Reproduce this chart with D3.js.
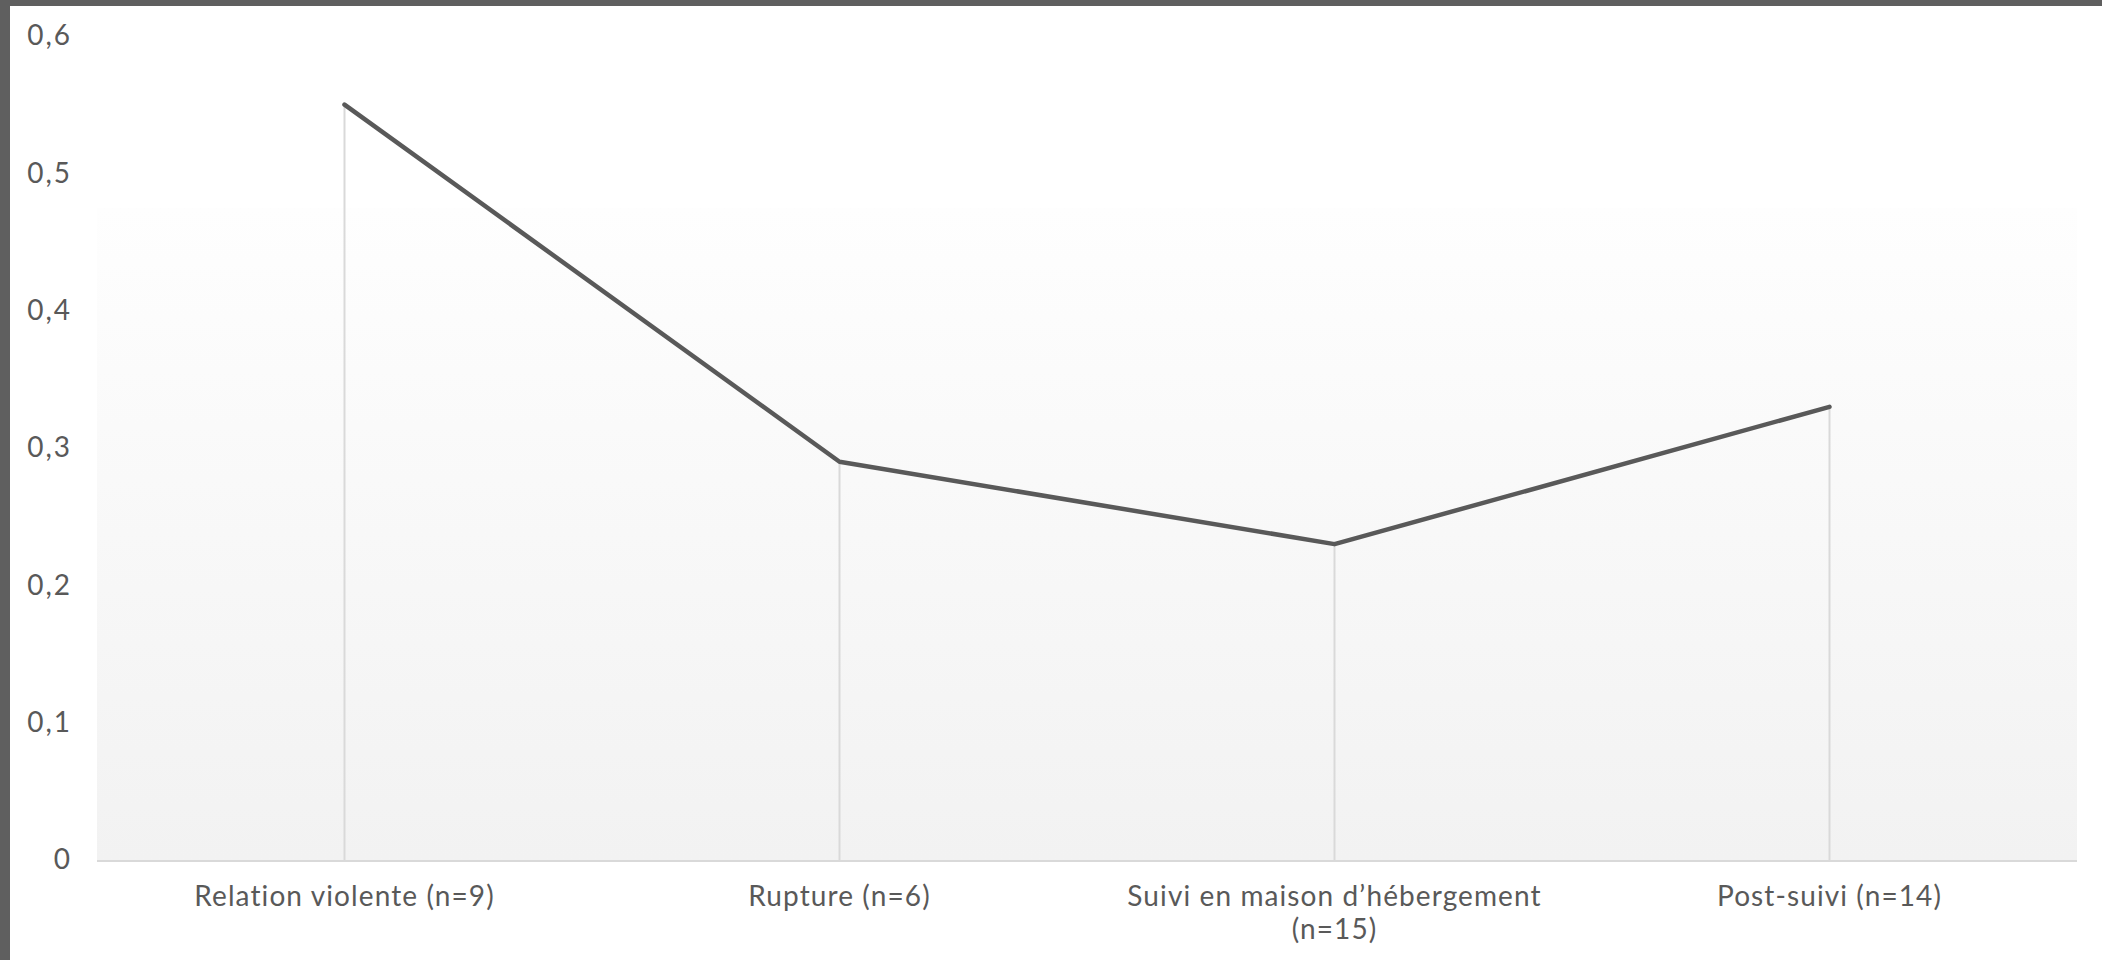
<!DOCTYPE html>
<html>
<head>
<meta charset="utf-8">
<script src="https://cdn.jsdelivr.net/npm/d3@7"></script>
<style>
  html, body { margin: 0; padding: 0; background: #ffffff; }
  svg { display: block; }
  text { font-family: "Lato", "Open Sans", sans-serif; fill: #595959; }
</style>
</head>
<body>
<svg id="chart" width="2102" height="960"></svg>
<script>
// Phases of the trajectory and the mean score measured at each one
const categories = [
  ["Relation violente (n=9)"],
  ["Rupture (n=6)"],
  ["Suivi en maison d\u2019hébergement", "(n=15)"],
  ["Post-suivi (n=14)"]
];
const values = [0.55, 0.29, 0.23, 0.33];
const yTicks = [0, 0.1, 0.2, 0.3, 0.4, 0.5, 0.6];

const svg = d3.select("#chart");
const W = 2102, H = 960;

// Frame: dark band on the top and left edges
svg.append("rect").attr("x", 0).attr("y", 0).attr("width", W).attr("height", H).attr("fill", "#ffffff");
svg.append("rect").attr("x", 0).attr("y", 0).attr("width", W).attr("height", 6).attr("fill", "#5f5f5f");
svg.append("rect").attr("x", 0).attr("y", 0).attr("width", 10).attr("height", H).attr("fill", "#5f5f5f");

const plot = { left: 97, right: 2077, top: 36, bottom: 860 };

const x = d3.scaleBand()
  .domain(d3.range(categories.length))
  .range([plot.left, plot.right])
  .padding(0);

const y = d3.scaleLinear()
  .domain([0, 0.6])
  .range([plot.bottom, plot.top]);

// Plot area background: soft vertical gradient
const defs = svg.append("defs");
const grad = defs.append("linearGradient")
  .attr("id", "plotBg").attr("x1", 0).attr("y1", 0).attr("x2", 0).attr("y2", 1);
grad.append("stop").attr("offset", "0%").attr("stop-color", "#fefefe");
grad.append("stop").attr("offset", "100%").attr("stop-color", "#f2f2f2");

svg.append("rect")
  .attr("x", plot.left)
  .attr("y", 208)
  .attr("width", plot.right - plot.left)
  .attr("height", plot.bottom - 208)
  .attr("fill", "url(#plotBg)");

// Drop lines from each point to the category axis
svg.append("g").selectAll("line")
  .data(values)
  .join("line")
  .attr("x1", (d, i) => x(i) + x.bandwidth() / 2)
  .attr("x2", (d, i) => x(i) + x.bandwidth() / 2)
  .attr("y1", d => y(d))
  .attr("y2", y(0))
  .attr("stroke", "#d9d9d9")
  .attr("stroke-width", 2);

// Category axis line
svg.append("line")
  .attr("x1", plot.left).attr("x2", plot.right)
  .attr("y1", y(0) + 1).attr("y2", y(0) + 1)
  .attr("stroke", "#d9d9d9").attr("stroke-width", 2);

// Value axis labels
const fmt = v => v === 0 ? "0" : d3.format(".1f")(v).replace(".", ",");
const yAxis = d3.axisLeft(y).tickValues(yTicks).tickFormat(fmt).tickSize(0).tickPadding(0);
const yg = svg.append("g").attr("transform", "translate(72,0)").call(yAxis);
yg.select(".domain").remove();
yg.selectAll("text")
  .attr("font-size", 28)
  .attr("letter-spacing", "2px")
  .attr("font-family", "Lato, 'Open Sans', sans-serif")
  .attr("fill", "#595959");

// Category labels (may wrap onto two lines)
const xl = svg.append("g").selectAll("text")
  .data(categories)
  .join("text")
  .attr("text-anchor", "middle")
  .attr("font-size", 28)
  .attr("letter-spacing", "1.1px")
  .attr("x", (d, i) => x(i) + x.bandwidth() / 2)
  .attr("y", 906);
xl.selectAll("tspan")
  .data(d => d)
  .join("tspan")
  .attr("x", function () { return d3.select(this.parentNode).attr("x"); })
  .attr("dy", (d, j) => j === 0 ? 0 : 33)
  .text(d => d);

// Series line
const line = d3.line()
  .x((d, i) => x(i) + x.bandwidth() / 2)
  .y(d => y(d));

svg.append("path")
  .datum(values)
  .attr("d", line)
  .attr("fill", "none")
  .attr("stroke", "#595959")
  .attr("stroke-width", 4.5)
  .attr("stroke-linejoin", "round")
  .attr("stroke-linecap", "round");
</script>
</body>
</html>
